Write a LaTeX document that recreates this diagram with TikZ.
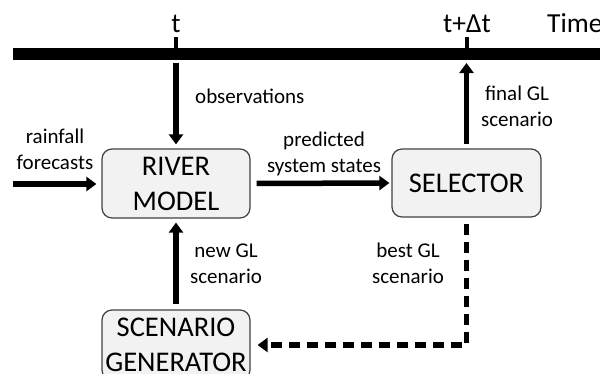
\documentclass[tikz,border=0pt]{standalone}
\usepackage{fontspec}
\setmainfont{Carlito}
\usetikzlibrary{arrows.meta}

\begin{document}
\begin{tikzpicture}[x=1pt,y=-1pt,
    block/.style={draw=black!75,fill=black!5,rounded corners=10pt,line width=1.2pt,
      minimum width=148pt,minimum height=69pt,align=center,inner sep=0pt,
      font=\fontsize{28.5}{35}\selectfont},
    lbl/.style={align=center,inner sep=0pt,font=\fontsize{21}{26}\selectfont},
    tick/.style={inner sep=0pt,font=\fontsize{27.5}{33}\selectfont},
    flow/.style={line width=5.5pt,-{Triangle[length=10pt,width=14pt]}}]
  \useasboundingbox (0,0) rectangle (600,373);

  % time axis
  \draw[line width=12pt] (13,54) -- (600,54);
  \draw[line width=4pt] (176,37) -- (176,54);
  \draw[line width=4pt] (467,37) -- (467,54);
  \node[tick,anchor=base] (tnow) at (176,32) {t};
  \node[tick,anchor=base] (tnext) at (467,32) {t+Δt};
  \node[tick,anchor=base west] (time) at (547,32) {Time};

  % blocks
  \node[block] (river) at (176,183.5) {RIVER\\MODEL};
  \node[block,minimum width=149pt,minimum height=68pt] (selector) at (466.5,183) {SELECTOR};
  \node[block,minimum height=70pt] (generator) at (176,345) {SCENARIO\\GENERATOR};

  \coordinate (obs) at (176,63);
  \coordinate (rain) at (13,184);
  \coordinate (final) at (466.5,63);

  % connectors
  \draw[flow,shorten >=4pt] (obs) -- (river);
  \draw[flow,shorten >=5pt] (rain) -- (rain-|river.west);
  \draw[flow,shorten <=6pt,shorten >=2pt] (river.east) -- (selector.west);
  \draw[flow,shorten <=4pt] (selector) -- (final);
  \draw[flow,shorten <=5pt,shorten >=4pt] (generator) -- (river);
  \draw[flow,dash pattern=on 11pt off 7pt,shorten <=6pt,shorten >=7pt] (selector.south) |- (generator.east);

  % labels (base = last line)
  \node[lbl,anchor=base west] (obslbl) at (195,103) {observations};
  \node[lbl,anchor=base] (finallbl) at (517,126.5) {final GL\\scenario};
  \node[lbl,anchor=base] (rainlbl) at (55,169) {rainfall\\forecasts};
  \node[lbl,anchor=base] (predlbl) at (324,172) {predicted\\system states};
  \node[lbl,anchor=base] (newlbl) at (226,283) {new GL\\scenario};
  \node[lbl,anchor=base] (bestlbl) at (408,283) {best GL\\scenario};
\end{tikzpicture}
\end{document}
